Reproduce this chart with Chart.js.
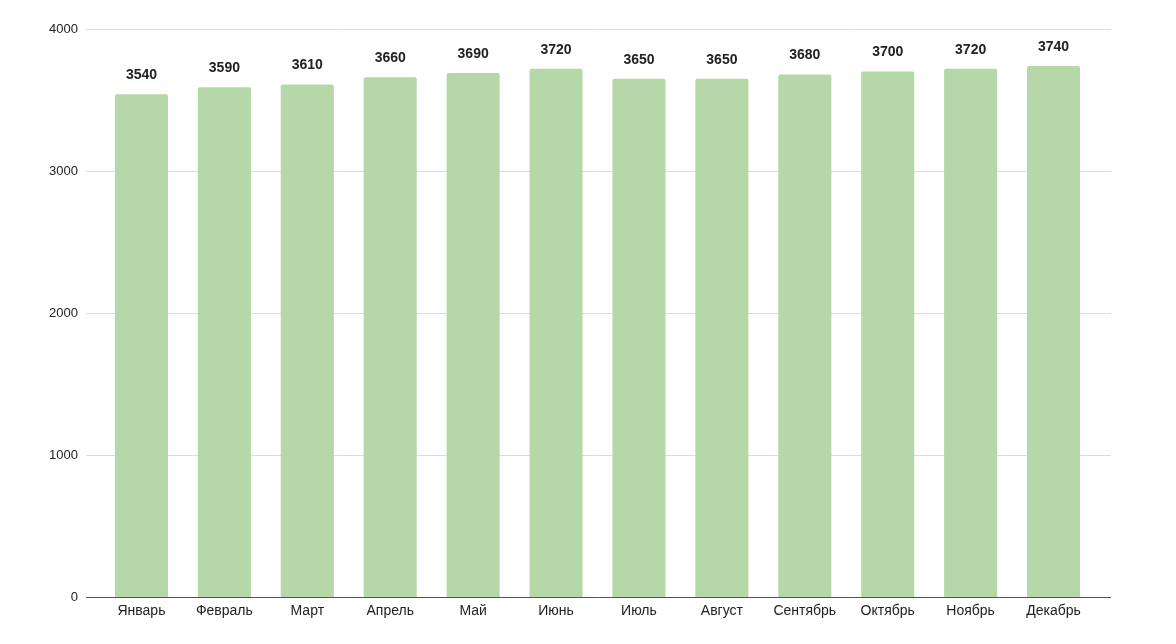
<!DOCTYPE html>
<html>
<head>
<meta charset="utf-8">
<script src="https://cdn.jsdelivr.net/npm/chart.js@4"></script>
<style>
  html, body { margin: 0; padding: 0; background: #fff; }
  #wrap { width: 1176px; height: 644px; }
</style>
</head>
<body>
<div id="wrap"><canvas id="salesChart"></canvas></div>
<script>
const months = ['Январь', 'Февраль', 'Март', 'Апрель', 'Май', 'Июнь', 'Июль', 'Август', 'Сентябрь', 'Октябрь', 'Ноябрь', 'Декабрь'];
const values = [3540, 3590, 3610, 3660, 3690, 3720, 3650, 3650, 3680, 3700, 3720, 3740];
const yTicks = [0, 1000, 2000, 3000, 4000];

const FONT = "'Liberation Sans', Arial, sans-serif";

// grid lines run a bit wider than the bars area
const wideGrid = {
    id: 'wideGrid',
    beforeDatasetsDraw(chart) {
        const ctx = chart.ctx;
        const y = chart.scales.y;
        const left = chart.chartArea.left - 14;
        const right = chart.chartArea.right + 16;
        ctx.save();
        yTicks.forEach(t => {
            const py = Math.round(y.getPixelForValue(t)) + 0.5;
            ctx.strokeStyle = t === 0 ? '#555' : '#dcdcdc';
            ctx.lineWidth = 1;
            ctx.beginPath();
            ctx.moveTo(left, py);
            ctx.lineTo(right, py);
            ctx.stroke();
        });
        ctx.restore();
    }
};

// value labels above the bars
const barLabels = {
    id: 'barLabels',
    afterDatasetsDraw(chart) {
        const ctx = chart.ctx;
        ctx.save();
        ctx.font = 'bold 14px ' + FONT;
        ctx.fillStyle = '#222';
        ctx.textAlign = 'center';
        ctx.textBaseline = 'middle';
        chart.getDatasetMeta(0).data.forEach((bar, i) => {
            ctx.fillText(values[i], bar.x, bar.y - 19);
        });
        ctx.restore();
    }
};

const ctx = document.getElementById('salesChart').getContext('2d');
const chart = new Chart(ctx, {
    type: 'bar',
    data: {
        labels: months,
        datasets: [{
            data: values,
            backgroundColor: '#b6d7a8',
            borderRadius: { topLeft: 2, topRight: 2 },
            borderSkipped: 'bottom',
            categoryPercentage: 1,
            barPercentage: 0.64
        }]
    },
    options: {
        responsive: true,
        maintainAspectRatio: false,
        animation: false,
        layout: { padding: { top: 29, right: 81, bottom: 0, left: 0 } },
        scales: {
            x: {
                grid: { display: false, drawTicks: false },
                border: { display: false },
                ticks: { color: '#222', font: { family: FONT, size: 14 }, padding: 6, maxRotation: 0 },
                afterFit: s => { s.height = 47; }
            },
            y: {
                min: 0,
                max: 4000,
                grid: { display: false },
                border: { display: false },
                ticks: {
                    stepSize: 1000,
                    color: '#222',
                    font: { family: FONT, size: 13 },
                    padding: 14,
                    callback: v => String(v)
                },
                afterFit: s => { s.width = 100; }
            }
        },
        plugins: {
            legend: { display: false },
            tooltip: { enabled: false }
        }
    },
    plugins: [wideGrid, barLabels]
});
</script>
</body>
</html>
